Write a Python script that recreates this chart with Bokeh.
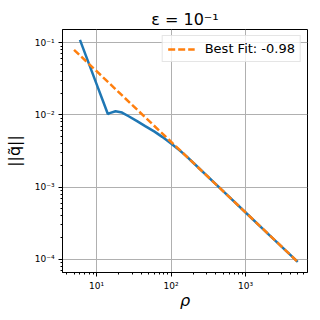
from bokeh.plotting import figure
from bokeh.models import FixedTicker, CustomJSTickFormatter, Legend, LegendItem, Range1d
from bokeh.embed import file_html
from bokeh.resources import INLINE

# data
rho = [6, 8, 10, 12, 14.2, 15, 18, 22, 27, 35, 45, 60, 76, 100, 130, 160, 200, 500, 1000, 2000, 5000]
q_norm = [0.11, 0.0499, 0.027, 0.0164, 0.0103, 0.0106, 0.01125, 0.0108, 0.0096, 0.0082,
          0.0070, 0.00587, 0.00497, 0.00402, 0.00324, 0.00269, 0.00216, 0.000877, 0.000445,
          0.000225, 0.000092]
fit_rho = [5, 5000]
fit_q = [0.08, 0.0000919]
fit_label = "Best Fit: -0.98"
x_major = [10, 100, 1000]
y_major = [1e-4, 1e-3, 1e-2, 1e-1]
x_minor = [m * d for d in [1, 10, 100, 1000] for m in range(2, 10)]
y_minor = [m * d for d in [1e-5, 1e-4, 1e-3, 1e-2, 1e-1] for m in range(2, 10)]

FONT = "DejaVu Sans"

p = figure(frame_width=245, frame_height=243, x_axis_type="log", y_axis_type="log",
           output_backend="svg", toolbar_location=None,
           x_range=Range1d(3.5, 6760), y_range=Range1d(6.55e-5, 0.153),
           min_border_left=62, min_border_right=13, min_border_top=29, min_border_bottom=48)

p.title.text = "ε = 10⁻¹"
p.title.text_font = FONT
p.title.text_font_size = "16px"
p.title.text_font_style = "normal"
p.title.text_color = "black"
p.title.align = "center"
p.title.standoff = 2

p.outline_line_color = "black"
p.outline_line_width = 1
p.outline_line_alpha = 1

fmt = CustomJSTickFormatter(code="""
const sup = {'-':'⁻','0':'⁰','1':'¹','2':'²','3':'³','4':'⁴','5':'⁵','6':'⁶','7':'⁷','8':'⁸','9':'⁹'};
const e = Math.round(Math.log10(tick));
return '10' + String(e).split('').map(c => sup[c]).join('');
""")

p.xaxis.ticker = FixedTicker(ticks=x_major, minor_ticks=x_minor)
p.yaxis.ticker = FixedTicker(ticks=y_major, minor_ticks=y_minor)
for ax in (p.xaxis, p.yaxis):
    ax.formatter = fmt
    ax.major_label_text_font = FONT
    ax.major_label_text_font_size = "9px"
    ax.major_label_text_color = "black"
    ax.major_label_standoff = 4
    ax.axis_line_color = "black"
    ax.major_tick_line_color = "black"
    ax.minor_tick_line_color = "black"
    ax.major_tick_out = 4
    ax.major_tick_in = 0
    ax.minor_tick_out = 2
    ax.minor_tick_in = 0
    ax.axis_label_text_font = FONT
    ax.axis_label_text_font_size = "16px"
    ax.axis_label_text_color = "black"

p.xaxis.axis_label = "ρ"
p.xaxis.axis_label_text_font_style = "italic"
p.xaxis.axis_label_standoff = -3
p.yaxis.axis_label = "||q̃||"
p.yaxis.axis_label_text_font_style = "normal"
p.yaxis.axis_label_standoff = 8

p.xgrid.ticker = FixedTicker(ticks=x_major)
p.ygrid.ticker = FixedTicker(ticks=y_major)
p.grid.grid_line_color = "#b0b0b0"
p.grid.grid_line_width = 1
p.grid.grid_line_alpha = 1

p.line(rho, q_norm, line_color="#1f77b4", line_width=2.5)
r_fit = p.line(fit_rho, fit_q, line_color="#ff7f0e", line_width=2.5, line_dash="7 3")

legend = Legend(items=[LegendItem(label=fit_label, renderers=[r_fit])],
                location="top_right", margin=6, padding=5, spacing=0,
                label_text_font=FONT, label_text_font_size="13px", label_text_color="black",
                label_standoff=10, glyph_width=27, glyph_height=14,
                border_line_color="#cccccc", border_line_width=1,
                background_fill_alpha=0.8)
p.add_layout(legend)

open("out.html", "w").write(file_html(p, INLINE))
